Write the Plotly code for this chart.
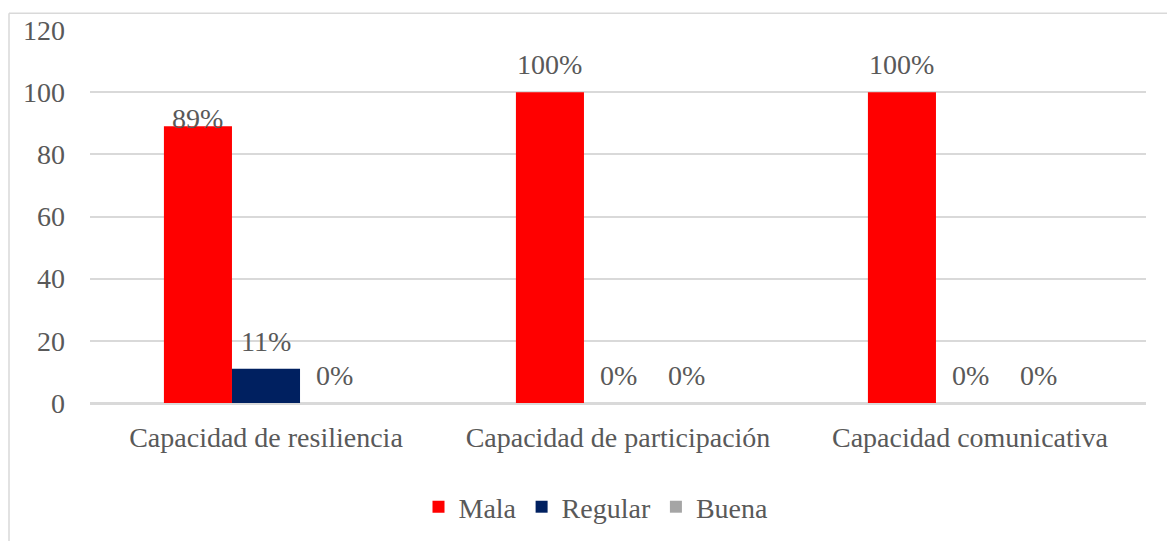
import plotly.graph_objects as go

categories = ["Capacidad de resiliencia", "Capacidad de participación", "Capacidad comunicativa"]
series_names = ["Mala", "Regular", "Buena"]
mala = [89, 100, 100]
regular = [11, 0, 0]
buena = [0, 0, 0]
colors = ["#FF0000", "#002060", "#A5A5A5"]

W, H = 1167, 541
L, R, T, B = 90, 21, 30, 138
pw, ph = W - L - R, H - T - B

font_family = "Liberation Serif"
txt_color = "#595959"
grid_color = "#D9D9D9"
FS = 28


def fnt(size=FS):
    return dict(family=font_family, size=size, color=txt_color)


bargap = 0.42
fig = go.Figure()
all_vals = [mala, regular, buena]
for name, vals, col in zip(series_names, all_vals, colors):
    fig.add_trace(go.Bar(name=name, x=categories, y=vals, marker_color=col,
                         marker_line_width=0))

# data labels
bw = (1 - bargap) / 3
ann = []
for j, vals in enumerate(all_vals):
    for i, v in enumerate(vals):
        shift = 10
        if j == 0 and i == 0:
            shift = -10
        ann.append(dict(x=i + (j - 1) * bw, y=v, xref="x", yref="y",
                        text=f"{v}%", showarrow=False, yanchor="bottom",
                        yshift=shift, font=fnt()))

px = lambda x: (x - L) / pw
py = lambda y: (H - B - y) / ph

shapes = [
    dict(type="line", xref="paper", yref="paper", x0=px(9), x1=px(1170), y0=py(13.3), y1=py(13.3),
         line=dict(color=grid_color, width=1.5)),
    dict(type="line", xref="paper", yref="paper", x0=px(9), x1=px(9), y0=py(13.3), y1=py(545),
         line=dict(color=grid_color, width=1.5)),
]

fig.update_layout(
    width=W, height=H,
    margin=dict(l=L, r=R, t=T, b=B, autoexpand=False),
    paper_bgcolor="white", plot_bgcolor="white",
    barmode="group", bargap=bargap, bargroupgap=0,
    font=fnt(),
    showlegend=True,
    legend=dict(orientation="h", x=px(596), xanchor="center", y=py(507), yanchor="middle",
                font=fnt(), itemsizing="constant"),
    annotations=ann,
    shapes=shapes,
    xaxis=dict(showgrid=False, showline=True, linecolor=grid_color, linewidth=1.5,
               ticks="", ticklabelstandoff=9, tickfont=fnt(), automargin=False),
    yaxis=dict(range=[0, 120], dtick=20, showgrid=True, gridcolor=grid_color, gridwidth=1.5,
               zeroline=True, zerolinecolor=grid_color, zerolinewidth=1.5,
               showline=False, ticks="", ticklabelstandoff=24,
               tickfont=fnt(), automargin=False),
)

fig.write_html("out.html", config={"displayModeBar": False},
               post_script="document.body.style.margin='0px';")
